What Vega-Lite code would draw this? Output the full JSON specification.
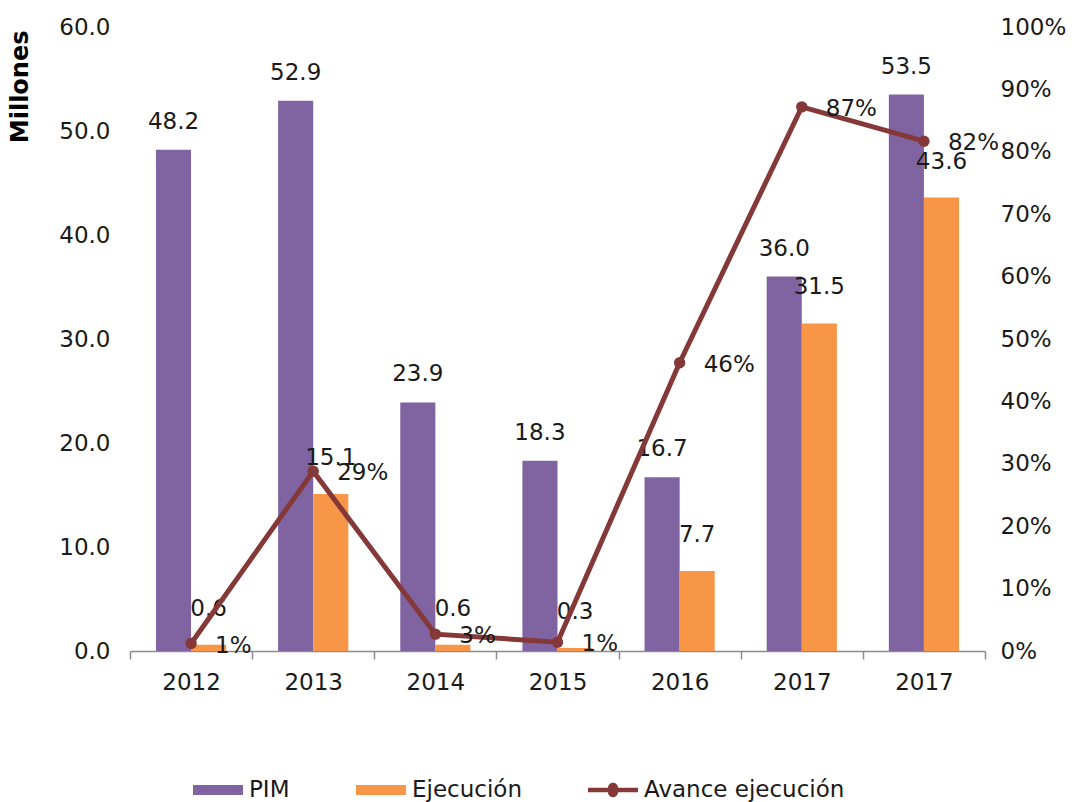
{
  "$schema": "https://vega.github.io/schema/vega-lite/v6.json",
  "width": 855,
  "height": 624,
  "autosize": {"type": "none"},
  "padding": {"left": 130, "top": 27, "right": 94, "bottom": 151},
  "config": {
    "font": "DejaVu Sans",
    "view": {"stroke": null},
    "axis": {"labelFont": "DejaVu Sans", "labelFontSize": 23, "labelColor": "#1a1a1a", "grid": false}
  },
  "datasets": {
    "bars": [
      {"idx": 1, "series": "PIM", "value": 48.2},
      {"idx": 1, "series": "Ejecución", "value": 0.6},
      {"idx": 2, "series": "PIM", "value": 52.9},
      {"idx": 2, "series": "Ejecución", "value": 15.1},
      {"idx": 3, "series": "PIM", "value": 23.9},
      {"idx": 3, "series": "Ejecución", "value": 0.6},
      {"idx": 4, "series": "PIM", "value": 18.3},
      {"idx": 4, "series": "Ejecución", "value": 0.3},
      {"idx": 5, "series": "PIM", "value": 16.7},
      {"idx": 5, "series": "Ejecución", "value": 7.7},
      {"idx": 6, "series": "PIM", "value": 36.0},
      {"idx": 6, "series": "Ejecución", "value": 31.5},
      {"idx": 7, "series": "PIM", "value": 53.5},
      {"idx": 7, "series": "Ejecución", "value": 43.6}
    ],
    "pct": [
      {"idx": 1, "avance": 0.012},
      {"idx": 2, "avance": 0.288},
      {"idx": 3, "avance": 0.027},
      {"idx": 4, "avance": 0.014},
      {"idx": 5, "avance": 0.462},
      {"idx": 6, "avance": 0.872},
      {"idx": 7, "avance": 0.817}
    ]
  },
  "encoding": {
    "x": {
      "field": "idx",
      "type": "ordinal",
      "scale": {"paddingInner": 0, "paddingOuter": 0},
      "axis": {
        "title": null,
        "labelAngle": 0,
        "labelExpr": "['2012','2013','2014','2015','2016','2017','2017'][datum.value-1]",
        "tickBand": "extent",
        "domainColor": "#8c8c8c",
        "domainWidth": 1.5,
        "tickColor": "#8c8c8c",
        "tickWidth": 1.5,
        "tickSize": 8,
        "labelPadding": 12
      }
    }
  },
  "layer": [
    {
      "data": {"name": "bars"},
      "encoding": {
        "y": {
          "field": "value",
          "type": "quantitative",
          "scale": {"domain": [0, 60], "nice": false},
          "axis": {
            "values": [0, 10, 20, 30, 40, 50, 60],
            "format": ".1f",
            "domain": false,
            "ticks": false,
            "labelPadding": 20,
            "title": "Millones",
            "titleFont": "DejaVu Sans",
            "titleFontSize": 24,
            "titleFontWeight": "bold",
            "titleColor": "#000000",
            "titleAngle": -90,
            "titleAlign": "right",
            "titleBaseline": "middle",
            "titleX": -110,
            "titleY": 3
          }
        },
        "xOffset": {
          "field": "series",
          "type": "nominal",
          "sort": ["PIM", "Ejecución"],
          "scale": {"paddingInner": 0, "paddingOuter": 0.74}
        }
      },
      "layer": [
        {
          "mark": {"type": "bar"},
          "encoding": {
            "color": {
              "field": "series",
              "type": "nominal",
              "scale": {
                "domain": ["PIM", "Ejecución", "Avance ejecución"],
                "range": ["#8064A2", "#F79646", "#843838"]
              },
              "legend": {
                "title": null,
                "orient": "none",
                "direction": "horizontal",
                "legendX": 63,
                "legendY": 738,
                "labelFont": "DejaVu Sans",
                "labelFontSize": 23,
                "labelColor": "#1a1a1a",
                "labelLimit": 400,
                "symbolSize": 2500,
                "symbolType": "M-1,-0.2H1V0.2H-1Z",
                "symbolStrokeWidth": 0,
                "symbolOpacity": 1,
                "labelOffset": 6,
                "columnPadding": 66,
                "encode": {
                  "symbols": {
                    "update": {
                      "shape": {"signal": "datum.label == 'Avance ejecución' ? 'M-1,-0.09H-0.2A0.2,0.2 0 0,1 0.2,-0.09H1V0.09H0.2A0.2,0.2 0 0,1 -0.2,0.09H-1Z' : 'M-1,-0.2H1V0.2H-1Z'"},
                      "strokeWidth": {"value": 0}
                    }
                  }
                }
              }
            }
          }
        },
        {
          "transform": [{"filter": "datum.series == 'PIM'"}],
          "mark": {"type": "text", "fontSize": 23, "color": "#1a1a1a", "baseline": "middle", "dy": -28},
          "encoding": {"text": {"field": "value", "type": "quantitative", "format": ".1f"}}
        },
        {
          "transform": [{"filter": "datum.series == 'Ejecución'"}],
          "mark": {"type": "text", "fontSize": 23, "color": "#1a1a1a", "baseline": "middle", "dy": -36},
          "encoding": {"text": {"field": "value", "type": "quantitative", "format": ".1f"}}
        }
      ]
    },
    {
      "data": {"name": "pct"},
      "encoding": {
        "y": {
          "field": "avance",
          "type": "quantitative",
          "scale": {"domain": [0, 1], "nice": false},
          "axis": {
            "orient": "right",
            "values": [0, 0.1, 0.2, 0.3, 0.4, 0.5, 0.6, 0.7, 0.8, 0.9, 1],
            "format": ".0%",
            "domain": false,
            "ticks": false,
            "labelPadding": 15,
            "title": null
          }
        }
      },
      "layer": [
        {
          "mark": {"type": "line", "strokeWidth": 5, "point": {"filled": true, "size": 130}},
          "encoding": {"color": {"datum": "Avance ejecución"}}
        },
        {
          "mark": {"type": "text", "fontSize": 23, "color": "#1a1a1a", "align": "left", "baseline": "middle", "dx": 24, "dy": 2},
          "encoding": {"text": {"field": "avance", "type": "quantitative", "format": ".0%"}}
        }
      ]
    }
  ],
  "resolve": {"scale": {"y": "independent"}}
}
